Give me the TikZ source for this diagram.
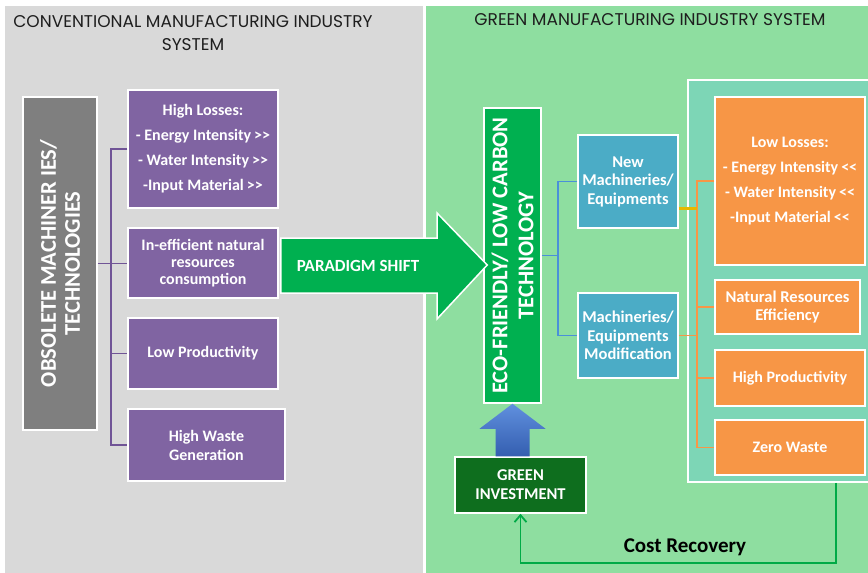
\documentclass[tikz,border=0pt]{standalone}
\usepackage{fontspec}
\setmainfont{Carlito}
\newfontfamily\titlefont{Poppins}
\usetikzlibrary{arrows.meta,calc}
\definecolor{panelgray}{RGB}{217,217,217}
\definecolor{panelgreen}{RGB}{142,222,160}
\definecolor{tealbg}{RGB}{125,214,182}
\definecolor{obsgray}{RGB}{127,127,127}
\definecolor{purp}{RGB}{128,100,162}
\definecolor{grn}{RGB}{0,176,80}
\definecolor{bluebox}{RGB}{75,172,198}
\definecolor{orng}{RGB}{247,150,70}
\definecolor{invgreen}{RGB}{14,110,30}
\definecolor{arrtop}{RGB}{96,144,222}
\definecolor{arrbot}{RGB}{52,94,176}
\definecolor{purpline}{RGB}{112,84,150}
\definecolor{blueline}{RGB}{74,144,217}
\definecolor{goldline}{RGB}{230,184,0}
\definecolor{costline}{RGB}{0,170,70}
\definecolor{titlecol}{RGB}{30,30,30}
\newcommand\gtgt{\hspace{3pt}>\kern0pt>}
\newcommand\ltlt{\hspace{3pt}<\kern0pt<}
\begin{document}
\begin{tikzpicture}[x=1pt,y=-1pt,
  box/.style={draw=white, line width=1.5pt, inner sep=0pt, text=white, align=center,
    font=\bfseries\fontsize{16}{17}\selectfont},
  purpbox/.style={box, fill=purp},
  bluebx/.style={box, fill=bluebox},
  orbox/.style={box, fill=orng},
  conn/.style={line width=1.6pt},
  ttl/.style={font=\titlefont\fontsize{17}{23}\selectfont, text=titlecol, align=center}]
\useasboundingbox (0,0) rectangle (868,573);
% panels
\fill[panelgray] (5,6) rectangle (423,573);
\fill[panelgreen] (426,6) rectangle (868,573);
\node[draw=white, line width=1.5pt, fill=tealbg, minimum width=190pt, minimum height=402pt, inner sep=0pt] (cont) at (783,281) {};
% titles
\node[ttl] (tl) at (193,33) {CONVENTIONAL MANUFACTURING INDUSTRY\\SYSTEM};
\node[ttl] (tr) at (650,20) {GREEN MANUFACTURING INDUSTRY SYSTEM};
% left boxes
\node[box, fill=obsgray, minimum width=74pt, minimum height=333pt] (obs) at (60,263.5) {};
\node[rotate=90, text=white, align=center, font=\bfseries\fontsize{22.5}{24}\selectfont] (obst) at (obs.center) {OBSOLETE MACHINER IES/\\TECHNOLOGIES};
\node[purpbox, minimum width=150pt, minimum height=118pt] (p1) at (203,149)
  {High Losses:\\[8pt]- Energy Intensity\gtgt\\[8pt]- Water Intensity\gtgt\\[8pt]-Input Material\gtgt};
\node[purpbox, minimum width=150pt, minimum height=70pt] (p2) at (203,263)
  {In-efficient natural\\resources\\consumption};
\node[purpbox, minimum width=150pt, minimum height=71pt] (p3) at (203,353.5) {Low Productivity};
\node[purpbox, minimum width=157pt, minimum height=72pt, font=\bfseries\fontsize{16}{19}\selectfont] (p4) at (206.5,445) {High Waste\\Generation};
% purple connectors
\draw[conn, purpline] (p1.west) -- ++(-16,0) coordinate (t1) -- (t1 |- p4.west) -- (p4.west);
\draw[conn, purpline] (t1 |- p3.west) -- (p3.west);
\draw[conn, purpline] (obs.east) -- (obs.east -| p2.west);
% green side
\node[box, fill=grn, minimum width=57pt, minimum height=295pt] (eco) at (512.5,255.5) {};
\node[rotate=90, text=white, align=center, font=\bfseries\fontsize{22.5}{26}\selectfont] (ecot) at (eco.center) {ECO-FRIENDLY/ LOW CARBON\\TECHNOLOGY};
\node[box, fill=invgreen, minimum width=131pt, minimum height=56pt, font=\bfseries\fontsize{16.5}{19}\selectfont] (inv) at (520.5,485) {GREEN\\INVESTMENT};
\node[bluebx, minimum width=100pt, minimum height=93pt, font=\bfseries\fontsize{16.5}{18.5}\selectfont] (new) at (628,181.5) {New\\Machineries/\\Equipments};
\node[bluebx, minimum width=100pt, minimum height=85pt, font=\bfseries\fontsize{16.5}{18.5}\selectfont] (mod) at (628,335.5) {Machineries/\\Equipments\\Modification};
\node[orbox, minimum width=150pt, minimum height=168pt] (o1) at (790,181)
  {Low Losses:\\[8pt]- Energy Intensity\ltlt\\[8pt]- Water Intensity\ltlt\\[8pt]-Input Material\ltlt};
\node[orbox, minimum width=145pt, minimum height=54pt, font=\bfseries\fontsize{16.5}{18}\selectfont] (o2) at (787.5,307) {Natural Resources\\Efficiency};
\node[orbox, minimum width=150pt, minimum height=56pt] (o3) at (790,378) {High Productivity};
\node[orbox, minimum width=150pt, minimum height=55pt] (o4) at (790,447.5) {Zero Waste};
% blue connectors
\coordinate (bt) at (558,0);
\draw[conn, blueline] (eco.east) -- (eco.east -| bt);
\draw[conn, blueline] (new.west) -- (new.west -| bt) -- (mod.west -| bt) -- (mod.west);
% orange connectors
\coordinate (ot) at (697,0);
\draw[conn, orng] (o1.west) -- (o1.west -| ot) -- (o4.west -| ot) -- (o4.west);
\draw[conn, orng] (o2.west -| ot) -- (o2.west);
\draw[conn, orng] (o3.west -| ot) -- (o3.west);
\draw[conn, orng] (mod.east) -- (mod.east -| ot);
\draw[line width=2.6pt, goldline] ([yshift=-27pt]new.east) -- ([yshift=-27pt]new.east -| ot);
% paradigm shift arrow
\draw[fill=grn, draw=white, line width=1.5pt] ($(p2.east)+(2,-25)$) -- (437,238) -- (437,213) -- ($(eco.west |- p2.east)+(4,2)$) -- (437,319) -- (437,293) -- ($(p2.east)+(2,30)$) -- cycle;
\node[text=white, font=\bfseries\fontsize{17}{20}\selectfont] (ps) at (358,266) {PARADIGM SHIFT};
% investment arrow
\shade[top color=arrtop, bottom color=arrbot] (eco.south) -- ++(33,25) -- ++(-16,0) -- ($(inv.north -| eco.south)+(17,0)$) -- ++(-34,0) -- ($(eco.south)+(-17,25)$) -- ++(-16,0) -- cycle;
% cost recovery
\coordinate (cr) at (836,563);
\draw[line width=1.8pt, costline, -{Straight Barb[length=7pt,width=12pt]}] (cr |- cont.south) -- (cr) -| (inv.south);
\node[font=\bfseries\fontsize{21}{24}\selectfont, text=black] (crl) at (685,547) {Cost Recovery};
\end{tikzpicture}
\end{document}
